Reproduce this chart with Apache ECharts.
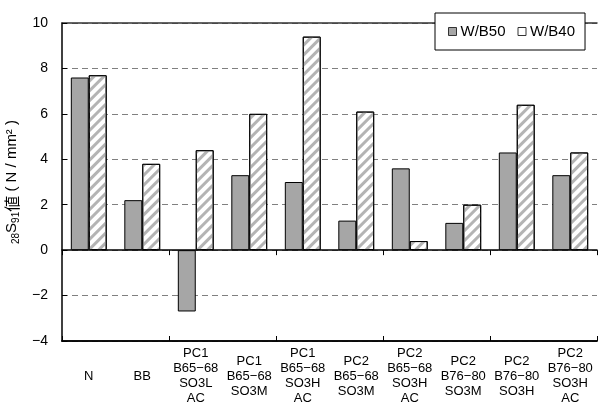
<!DOCTYPE html>
<html><head><meta charset="utf-8">
<script src="https://cdn.jsdelivr.net/npm/echarts@6/dist/echarts.min.js"></script>
<style>html,body{margin:0;padding:0;background:#fff}#c{width:599px;height:403px}</style>
</head><body><div id="c"></div>
<script>
const categories = ["N", "BB", "PC1\nB65−68\nSO3L\nAC", "PC1\nB65−68\nSO3M", "PC1\nB65−68\nSO3H\nAC", "PC2\nB65−68\nSO3M", "PC2\nB65−68\nSO3H\nAC", "PC2\nB76−80\nSO3M", "PC2\nB76−80\nSO3H", "PC2\nB76−80\nSO3H\nAC"];
const wb50 = [7.6, 2.2, -2.7, 3.3, 3.0, 1.3, 3.6, 1.2, 4.3, 3.3];
const wb40 = [7.7, 3.8, 4.4, 6.0, 9.4, 6.1, 0.4, 2.0, 6.4, 4.3];
const yTicks = [-4, -2, 0, 2, 4, 6, 8, 10];

const FONT = "'Liberation Sans', Arial, sans-serif";
const chart = echarts.init(document.getElementById('c'), null, {renderer: 'canvas'});
const hidden = {show: false};
chart.setOption({
  animation: false,
  backgroundColor: '#fff',
  textStyle: {fontFamily: FONT},
  grid: {left: 62, right: 2, top: 23, bottom: 62, containLabel: false, outerBoundsMode: 'none'},
  legend: {
    left: 435, top: 13,
    padding: [10, 10, 10, 13],
    itemGap: 12,
    itemWidth: 8, itemHeight: 8,
    borderColor: '#000', borderWidth: 1, backgroundColor: '#fff',
    textStyle: {fontSize: 15, lineHeight: 17, color: '#000', fontFamily: FONT, padding: [0, 0, 0, -1]},
    data: [
      {name: 'W/B50', icon: 'rect', itemStyle: {color: '#a6a6a6', borderColor: '#333', borderWidth: 1, decal: 'none'}},
      {name: 'W/B40', icon: 'rect', itemStyle: {color: '#fff', borderColor: '#333', borderWidth: 1, decal: 'none'}}
    ]
  },
  xAxis: [
    {
      type: 'category', data: categories, position: 'bottom',
      axisLine: {onZero: false, lineStyle: {color: '#000', width: 1.5}},
      axisTick: hidden,
      axisLabel: {interval: 0, fontSize: 13, lineHeight: 15, color: '#000', verticalAlign: 'middle', margin: 35, fontFamily: FONT}
    },
    {
      type: 'category', data: categories, position: 'bottom',
      axisLine: {onZero: true, lineStyle: {color: '#000', width: 1.5}},
      axisTick: {show: true, inside: false, length: 5, lineStyle: {color: '#000', width: 1}},
      axisLabel: hidden
    },
    {
      type: 'category', data: categories, position: 'bottom',
      axisLine: {onZero: true, lineStyle: {color: '#000', width: 1.5}},
      axisTick: {show: true, inside: true, length: 5, lineStyle: {color: '#000', width: 1}},
      axisLabel: hidden
    },
    {
      type: 'category', data: categories, position: 'top',
      axisLine: {show: true, lineStyle: {color: '#333', width: 1.5}},
      axisTick: hidden, axisLabel: hidden
    }
  ],
  yAxis: {
    type: 'value', min: -4, max: 10, interval: 2,
    axisLine: {show: true, lineStyle: {color: '#000', width: 1.5}},
    axisTick: {show: true, inside: true, length: 5, lineStyle: {color: '#000'}},
    axisLabel: {fontSize: 14, color: '#000', margin: 14, fontFamily: FONT,
      formatter: v => yTicks.includes(v) ? String(v).replace('-', '−') : ''},
    splitLine: {show: true, lineStyle: {color: '#808080', type: [6, 4], width: 1}},
    name: '{s|28}S{s|91}{k|値} ( N / mm² )',
    nameLocation: 'middle', nameGap: 41, nameRotate: 90,
    nameTextStyle: {
      fontSize: 15, color: '#000', fontFamily: FONT,
      rich: {
        s: {fontSize: 10, color: '#000', padding: [9, 0, 0, 0], fontFamily: FONT},
        k: {fontSize: 16, color: '#000', fontFamily: "'Noto Sans CJK JP', sans-serif"}
      }
    }
  },
  series: [
    {
      name: 'W/B50', type: 'bar', data: wb50, xAxisIndex: 0,
      barGap: '0%', barCategoryGap: '33%',
      itemStyle: {color: '#a6a6a6', borderColor: '#000', borderWidth: 1}
    },
    {
      name: 'W/B40', type: 'bar', data: wb40, xAxisIndex: 0,
      itemStyle: {color: '#fff', borderColor: '#000', borderWidth: 1,
        decal: {symbol: 'rect', color: '#b4b4b4', dashArrayX: [1, 0], dashArrayY: [3, 4], rotation: -Math.PI / 4, symbolSize: 1}}
    }
  ]
});
</script></body></html>
